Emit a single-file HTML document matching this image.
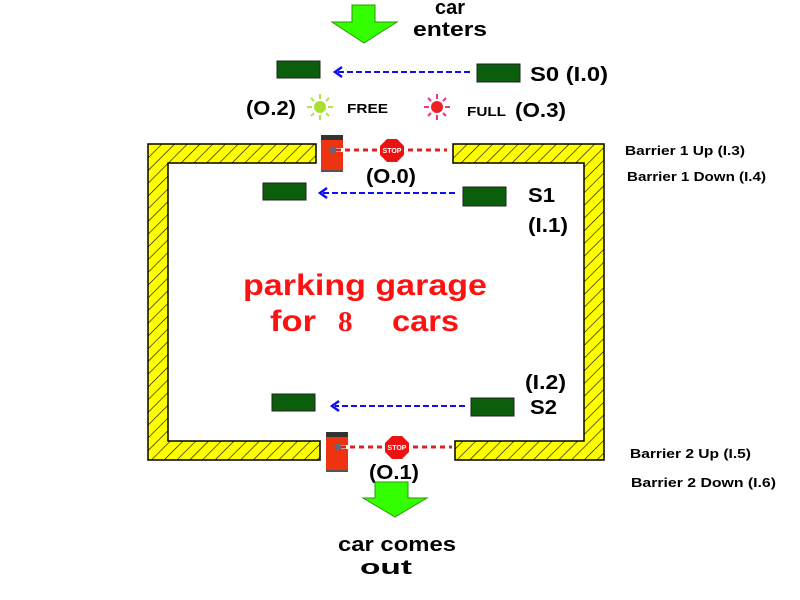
<!DOCTYPE html>
<html><head><meta charset="utf-8"><style>
html,body{margin:0;padding:0;background:#fff;width:800px;height:600px;overflow:hidden}
svg{display:block}
text{font-family:"Liberation Sans",sans-serif;font-weight:bold}
</style></head><body>
<svg width="800" height="600" viewBox="0 0 800 600" xmlns="http://www.w3.org/2000/svg">
<defs>
<pattern id="h" width="9" height="9" patternUnits="userSpaceOnUse" patternTransform="rotate(45)">
<rect width="9" height="9" fill="#ffff00"/><line x1="0" y1="0" x2="0" y2="9" stroke="#000" stroke-width="1.2"/>
</pattern>
</defs>
<path d="M148,144 H316 V163 H168 V441 H320 V460 H148 Z" fill="url(#h)" stroke="#000" stroke-width="1.5"/>
<path d="M453,144 H604 V460 H455 V441 H584 V163 H453 Z" fill="url(#h)" stroke="#000" stroke-width="1.5"/>
<polygon points="352,5 375,5 375,22 397,22 364,43 332,22 352,22" fill="#33ff00" stroke="#2a9a00" stroke-width="1"/>
<text x="435" y="14" font-size="20" textLength="30" lengthAdjust="spacingAndGlyphs">car</text>
<text x="413" y="36" font-size="20" textLength="74" lengthAdjust="spacingAndGlyphs">enters</text>
<rect x="277" y="61" width="43" height="17" fill="#0b5e0b" stroke="#222"/>
<rect x="477" y="64" width="43" height="18" fill="#0b5e0b" stroke="#222"/>
<line x1="470" y1="72" x2="338" y2="72" stroke="#1010ee" stroke-width="2" stroke-dasharray="6,3"/>
<polyline points="342,67 335,72 342,77" fill="none" stroke="#1010ee" stroke-width="2.5"/>
<text x="530" y="81" font-size="20" textLength="78" lengthAdjust="spacingAndGlyphs">S0 (I.0)</text>
<g stroke="#aee34a" stroke-width="2">
<line x1="320" y1="94" x2="320" y2="99"/><line x1="320" y1="115" x2="320" y2="120"/>
<line x1="307" y1="107" x2="312" y2="107"/><line x1="328" y1="107" x2="333" y2="107"/>
<line x1="311" y1="98" x2="314" y2="101"/><line x1="326" y1="113" x2="329" y2="116"/>
<line x1="329" y1="98" x2="326" y2="101"/><line x1="314" y1="113" x2="311" y2="116"/>
</g>
<circle cx="320" cy="107" r="6" fill="#a8e030"/>
<g stroke="#ee3388" stroke-width="2">
<line x1="437" y1="94" x2="437" y2="99"/><line x1="437" y1="115" x2="437" y2="120"/>
<line x1="424" y1="107" x2="429" y2="107"/><line x1="445" y1="107" x2="450" y2="107"/>
<line x1="428" y1="98" x2="431" y2="101"/><line x1="443" y1="113" x2="446" y2="116"/>
<line x1="446" y1="98" x2="443" y2="101"/><line x1="431" y1="113" x2="428" y2="116"/>
</g>
<circle cx="437" cy="107" r="6" fill="#ee2222"/>
<text x="246" y="115" font-size="20" textLength="50" lengthAdjust="spacingAndGlyphs">(O.2)</text>
<text x="347" y="113" font-size="13" textLength="41" lengthAdjust="spacingAndGlyphs">FREE</text>
<text x="467" y="116" font-size="13" textLength="39" lengthAdjust="spacingAndGlyphs">FULL</text>
<text x="515" y="117" font-size="20" textLength="51" lengthAdjust="spacingAndGlyphs">(O.3)</text>
<rect x="321" y="135" width="22" height="37" fill="#ee3311"/>
<rect x="321" y="135" width="22" height="5" fill="#333"/>
<rect x="321" y="170" width="22" height="2" fill="#555"/>
<circle cx="333" cy="150" r="3.5" fill="#667"/>
<line x1="336" y1="150" x2="447" y2="150" stroke="#fff" stroke-width="4"/>
<line x1="336" y1="150" x2="447" y2="150" stroke="#dd2222" stroke-width="3" stroke-dasharray="5,4"/>
<polygon points="387,139 397,139 404,146 404,155 397,162 387,162 380,155 380,146" fill="#ee1111"/>
<text x="392" y="153" font-size="7" fill="#fff" text-anchor="middle">STOP</text>
<text x="366" y="183" font-size="20" textLength="50" lengthAdjust="spacingAndGlyphs">(O.0)</text>
<rect x="263" y="183" width="43" height="17" fill="#0b5e0b" stroke="#222"/>
<rect x="463" y="187" width="43" height="19" fill="#0b5e0b" stroke="#222"/>
<line x1="455" y1="193" x2="323" y2="193" stroke="#1010ee" stroke-width="2" stroke-dasharray="6,3"/>
<polyline points="327,188 320,193 327,198" fill="none" stroke="#1010ee" stroke-width="2.5"/>
<text x="528" y="202" font-size="20" textLength="27" lengthAdjust="spacingAndGlyphs">S1</text>
<text x="528" y="232" font-size="20" textLength="40" lengthAdjust="spacingAndGlyphs">(I.1)</text>
<text x="625" y="155" font-size="13" textLength="120" lengthAdjust="spacingAndGlyphs">Barrier 1 Up (I.3)</text>
<text x="627" y="181" font-size="13" textLength="139" lengthAdjust="spacingAndGlyphs">Barrier 1 Down (I.4)</text>
<text x="243" y="295" font-size="30" fill="#ff1111" textLength="244" lengthAdjust="spacingAndGlyphs">parking garage</text>
<text x="270" y="331" font-size="30" fill="#ff1111" textLength="46" lengthAdjust="spacingAndGlyphs">for</text>
<text x="338" y="331" font-size="29" fill="#ff1111" font-weight="normal" style="font-family:'Liberation Serif',serif">8</text>
<text x="392" y="331" font-size="30" fill="#ff1111" textLength="67" lengthAdjust="spacingAndGlyphs">cars</text>
<rect x="272" y="394" width="43" height="17" fill="#0b5e0b" stroke="#222"/>
<rect x="471" y="398" width="43" height="18" fill="#0b5e0b" stroke="#222"/>
<line x1="465" y1="406" x2="335" y2="406" stroke="#1010ee" stroke-width="2" stroke-dasharray="6,3"/>
<polyline points="339,401 332,406 339,411" fill="none" stroke="#1010ee" stroke-width="2.5"/>
<text x="525" y="389" font-size="20" textLength="41" lengthAdjust="spacingAndGlyphs">(I.2)</text>
<text x="530" y="414" font-size="20" textLength="27" lengthAdjust="spacingAndGlyphs">S2</text>
<text x="630" y="458" font-size="13" textLength="121" lengthAdjust="spacingAndGlyphs">Barrier 2 Up (I.5)</text>
<text x="631" y="487" font-size="13" textLength="145" lengthAdjust="spacingAndGlyphs">Barrier 2 Down (I.6)</text>
<rect x="326" y="432" width="22" height="40" fill="#ee3311"/>
<rect x="326" y="432" width="22" height="5" fill="#333"/>
<rect x="326" y="470" width="22" height="2" fill="#555"/>
<circle cx="338" cy="447" r="3.5" fill="#667"/>
<line x1="341" y1="447" x2="452" y2="447" stroke="#fff" stroke-width="4"/>
<line x1="341" y1="447" x2="452" y2="447" stroke="#dd2222" stroke-width="3" stroke-dasharray="5,4"/>
<polygon points="392,436 402,436 409,443 409,452 402,459 392,459 385,452 385,443" fill="#ee1111"/>
<text x="397" y="450" font-size="7" fill="#fff" text-anchor="middle">STOP</text>
<text x="369" y="479" font-size="20" textLength="50" lengthAdjust="spacingAndGlyphs">(O.1)</text>
<polygon points="375,482 408,482 408,498 427,498 395,517 363,498 375,498" fill="#33ff00" stroke="#2a9a00" stroke-width="1"/>
<text x="338" y="551" font-size="20" textLength="118" lengthAdjust="spacingAndGlyphs">car  comes</text>
<text x="360" y="574" font-size="20" textLength="52" lengthAdjust="spacingAndGlyphs">out</text>
</svg>
</body></html>
